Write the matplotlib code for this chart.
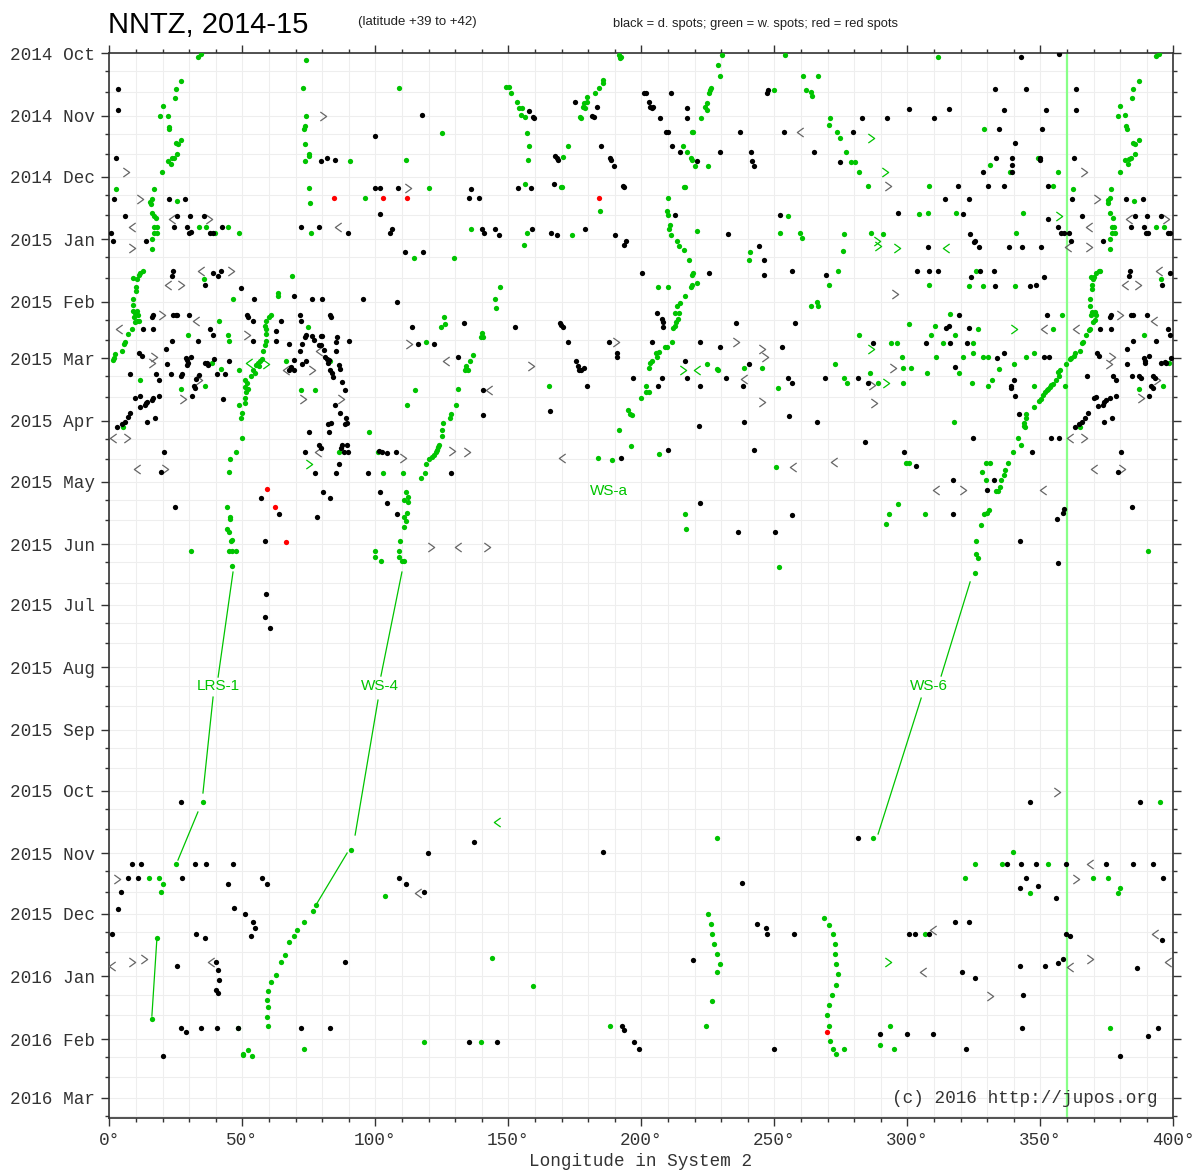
import numpy as np
import matplotlib
matplotlib.use('Agg')
import matplotlib.pyplot as plt
from matplotlib.path import Path

# --- data: (longitude in System 2 [deg], days since 2014-10-01) ---
START = np.datetime64('2014-10-01')
LAST_DAY = 527          # bottom of the chart, ~2016-03-11

dark_spots = [
    (3.4, 17.8), (3.4, 27.9), (2.6, 51.8), (1.8, 72.1), (5.8, 80.5), (0.8, 88.8), (1.5, 92.9), (13.8, 92.9),
    (22.4, 72.1), (28.5, 72.1), (25.6, 80.5), (30.3, 80.5), (35.5, 80.5), (24.3, 86), (29.1, 86), (29.8, 88.9),
    (30.6, 88.6), (37.8, 89.1), (38.8, 88.8), (42.4, 86), (79.4, 53.1), (82, 51.8), (84.8, 52.6), (100, 40.9),
    (117.5, 30.7), (99.9, 66.8), (101.9, 66.8), (108.6, 66.8), (101.9, 79.7), (72, 86), (78.8, 86), (89.9, 88.8),
    (105.6, 88.8), (106.3, 86.8), (111, 98.3), (118.1, 98.3), (23.9, 107.8), (23.6, 110.2), (38.9, 108.9),
    (40.8, 110.2), (41.8, 107.8), (35.9, 114.7), (49.4, 116), (69.3, 120.3), (54.5, 121.8), (76.1, 121.8),
    (80, 121.8), (95.5, 121.8),
    (108, 122.9), (16.4, 129.8), (16.1, 130.7), (24, 129.5), (25, 129.5), (25.5, 129.5), (30, 129.5), (12.5, 136.6),
    (16.5, 136.6), (23.5, 142.2), (33.4, 142.2), (37.75, 136.6), (39, 139.4), (51.6, 129.5), (52, 130.4),
    (54, 132.5), (21.4, 146.5), (11.1, 148.2), (12.25, 149.8), (21.75, 153.8), (28.9, 150.8), (29.25, 152),
    (29.6, 153.3), (29.25, 154.3), (30.6, 150.2), (36.1, 153.5), (36.9, 153.2), (37.25, 154.5), (39.4, 151.5),
    (44.9, 152.2), (7.75, 158.9), (17.5, 158.9), (18.6, 161.7), (23.25, 158.9), (27.1, 159.7), (27.5, 158.9),
    (32.75, 161.4), (33.6, 159.2), (32, 164.7), (32.25, 165.8), (40.5, 158.9), (43.5, 158.9), (9.75, 170.8),
    (11.4, 169.6), (11.6, 175), (13.4, 174.1), (13.75, 173.3), (14.25, 172.6), (15.9, 171.6), (16.4, 170.8),
    (18.5, 169.6), (14, 182.5), (17.25, 180.4), (7.75, 178.2), (7.1, 179.9), (5.75, 182.5), (4.75, 183.5),
    (2.9, 184.8), (31, 169.6), (42.75, 171.1), (20.5, 197.5), (19.25, 207.2), (24.6, 224.5), (54, 142.2),
    (62.6, 137.3), (62.6, 142.2), (64.5, 132.5), (67.6, 144), (71.5, 129.5), (72, 132.5), (72.25, 144),
    (71.5, 147.2), (73.75, 139.4), (73.6, 140.3), (76.25, 139.9), (77.1, 141.9), (79.5, 139.9), (80, 139.9),
    (79, 144.4), (79.75, 144.4), (80.75, 146.9), (81.25, 150.2), (81.9, 151.3), (82.5, 151.8), (82.25, 153.1),
    (83, 129.5), (83.5, 130.4), (85.6, 140.3), (85.25, 142.8), (85.1, 147.4), (90.25, 142.2), (86.4, 154.3),
    (86.6, 156.4), (82.9, 156.8), (83.6, 158.1), (84, 160.1), (87.4, 162.6), (88.6, 166.7), (68.25, 155.2),
    (67.6, 156.8), (69.25, 156.8), (72.6, 153.8), (73.9, 152.2), (69.4, 151.8), (84.9, 174.1), (86.9, 178.2),
    (89.1, 180.4), (88.6, 183.5), (89.25, 182.8), (82.25, 183.5), (83.5, 182.8), (74.9, 187.7), (82.5, 187.7),
    (79, 193.9), (79.5, 195.4), (73.4, 197.5), (87.4, 193.9), (87.1, 195.4), (89.25, 193.9), (88.4, 197.5),
    (89.6, 197.5), (86.5, 203.4), (77.4, 207.6), (85.4, 207.6), (97.1, 207.6), (101.5, 196.8), (102.5, 197.5),
    (104.25, 197.8), (107.75, 197.5), (113.6, 135.3), (115.9, 144), (122.1, 144), (130.9, 150.2), (128.6, 207.6),
    (80.4, 217.3), (83.1, 220.3), (78.25, 229.5), (57, 220.3), (63.6, 227.9), (58.6, 241.2), (58.9, 267.8),
    (58.5, 279), (60.4, 284.7), (101.6, 217.3), (104.4, 222.8), (108, 227.9),
    (175.1, 23.9), (183.25, 26.7), (181.4, 30.9), (182.1, 31.7), (157.6, 28.7), (159.5, 32), (159.25, 31.5),
    (200.9, 19.5), (201.75, 19.8), (202.75, 23.9), (203.4, 26.7), (204.4, 26.4), (203.9, 27.2), (206.9, 32),
    (211, 19.8), (217.1, 27.2), (217.1, 32), (209.1, 38.9), (210, 38.9), (211.6, 45.9), (214.4, 48.7), (221, 53.1),
    (237.1, 38.9), (229.5, 48.7), (241.4, 48.7), (241.6, 53.1), (242.4, 55.9), (253.75, 38.9), (264.75, 48.7),
    (247.6, 18.2), (247.25, 19.8), (185, 45.9), (188.4, 52), (188.5, 52.8), (189.75, 55.9), (167.5, 50.8),
    (168.4, 52), (168.5, 52.8), (167.1, 64.9), (136.1, 67.2), (135.4, 71.8), (139.1, 71.8), (153.6, 66.8),
    (158.4, 66.8), (193.1, 65.7), (193.6, 66), (140, 86.8), (141, 88.8), (145, 86.8), (146.5, 89.9), (158.75, 86.8),
    (165.9, 88.8), (168.4, 89.9), (178.75, 86.8), (190.1, 89.9), (193.6, 94.9), (194.4, 92.9), (212.6, 79.9),
    (232.5, 89.6), (200.25, 108.6), (225.25, 108.6), (244.25, 95.2), (246, 102.1), (246.1, 109.9), (252, 79.9),
    (256.75, 107.8),
    (133.25, 133.7), (152.6, 135.3), (169.6, 133.7), (169.9, 134.5), (170.5, 135.3), (172.25, 142.7),
    (187.9, 142.7), (191, 148.2), (191, 150.2), (175.25, 152.3), (176.1, 154.8), (176.5, 156.8), (177.4, 156.8),
    (178.6, 155.6), (179.6, 164.7), (140.5, 166.7), (140.5, 179.2), (165.5, 177.2), (206, 128.4), (207.75, 131.7),
    (208, 133.2), (208.25, 135.3), (203.9, 142.7), (196.75, 160.9), (207.75, 160.9), (206.1, 164.7),
    (216.5, 152.3), (217, 160.9), (222.1, 142.7), (229.5, 145.5), (235.5, 133.3), (257.75, 133.3), (252.75, 145.5),
    (240.5, 153.6), (222.1, 164.7), (231.9, 160.9), (238.4, 164.7), (255.25, 160.9), (256.5, 163.4),
    (221.75, 184.5), (238.6, 182.4), (255.6, 179.6), (266, 182.4), (210.1, 196.2), (192.25, 200.3),
    (242.25, 196.2), (222.1, 222.6), (236.5, 237.1), (250.25, 237.1), (256.5, 228.7),
    (342.6, 2), (357, 0.3), (333.1, 17.8), (344.75, 17.8), (363.25, 17.8), (300.75, 27.6), (315.6, 27.6),
    (336.5, 27.9), (352.1, 27.9), (363.25, 27.9), (283, 32), (292.25, 32), (310.1, 32), (279.4, 38.8),
    (334.4, 37.3), (350.5, 37.3), (340.5, 44.6), (333.4, 51.8), (339.5, 51.8), (339.5, 55.3), (339.25, 58.7),
    (350, 51.8), (349.75, 52.8), (362.6, 51.8), (274.75, 53.8), (328.5, 58.7), (319, 65.7), (330.4, 65.7),
    (336.5, 65.7), (352.75, 65.7), (314.1, 72.1), (323.25, 72.1), (361.75, 72.1), (296.6, 79), (320.75, 79.7),
    (352.75, 81.8), (356.75, 85.8), (357.75, 88.8), (358.9, 89.1), (360.75, 88.8), (361.4, 92.9), (365.75, 80.5),
    (323.6, 89.6), (325.1, 93.2), (325.6, 92.7), (307.6, 96), (327, 96), (338.25, 96), (343.1, 96), (350.25, 96),
    (373.6, 92.9), (382.25, 72.1), (388.4, 72.1), (385.6, 80.5), (390.25, 80.5), (395.5, 80.5), (384.1, 85.8),
    (389, 85.8), (389.75, 88.8), (390.6, 88.8), (397.9, 89.1), (398.6, 88.8), (269.5, 109.7), (303.6, 107.8),
    (308.1, 107.8), (311.5, 107.8), (323.9, 110.9), (327.4, 107.8), (332.75, 107.8), (333.1, 115.2),
    (346.25, 115.2), (348.5, 114.7), (351.25, 110.9), (383.75, 107.8), (383.5, 110.2), (398.9, 108.9),
    (395.75, 114.7),
    (352.5, 129.5), (319.6, 129.5), (376.25, 130.4), (376.5, 129.5), (376.5, 136.6), (372.5, 136.6), (384, 129.5),
    (384.75, 129.5), (390, 129.5), (314.5, 136.1), (315.6, 135), (323.25, 136.1), (287, 143.6), (307, 143.6),
    (316.1, 143.6), (322.4, 143.6), (336.25, 148.5), (333.75, 150.8), (351.25, 150.3), (353.25, 150.3),
    (317.75, 155.1), (268.9, 160.9), (281.5, 160.9), (285.25, 163.4), (340, 161.7), (339.1, 164.7), (339, 165.5),
    (340.5, 169.6), (342, 178.4), (324.75, 190.6), (354, 190.6), (357, 190.6), (346.9, 197.5), (284, 192.6),
    (298.75, 197.5), (303.4, 204.3), (317.25, 211.2), (332.4, 211.2), (329.9, 216.2), (317, 228.3),
    (342.25, 241.2), (356.25, 230.5), (358.6, 227.7), (359, 225.7), (356.5, 252.1), (384.4, 224.6),
    (367.5, 159.9), (371.25, 148.2), (372, 149.8), (377.4, 159.9), (378.6, 161.7), (382.75, 153.6), (384.5, 159.9),
    (382.5, 146.5), (384.75, 142.2), (389.1, 151), (389.4, 152.3), (389.5, 153.4), (390.75, 149.8),
    (387.25, 159.9), (387.75, 160.7), (392.25, 159.9), (393, 160.7), (391.75, 164.5), (392.25, 165.8),
    (391, 169.5), (393.5, 142.2), (395.5, 153.4), (396.75, 152.6), (397.25, 153.4), (397.9, 136.5),
    (398.75, 139.4), (399.1, 151), (370.25, 170.8), (371.1, 170), (371.6, 174.7), (373.4, 173.9), (373.9, 172.8),
    (374.5, 171.5), (376, 170.8), (378.5, 169.6), (368, 178.2), (366.6, 180.4), (365.5, 182.3), (364.5, 183.5),
    (362.9, 184.8), (373.9, 182.3), (377.1, 180.4), (380.4, 197.5), (379.1, 207.1),
    # autumn 2015 - winter 2016
    (27, 370.7), (346.2, 370.7), (387.5, 370.7), (137.1, 390.5), (119.8, 395.9), (185.6, 395.4), (281.5, 388.5),
    (8.5, 401.3), (11.9, 401.3), (32.2, 401.3), (36.3, 401.3), (46.5, 401.3), (7, 408.3), (10.8, 408.3),
    (27.3, 408.3), (44.6, 411.3), (57.4, 408.3), (59.3, 411.3), (4.4, 415.3), (109, 408.3), (111.7, 411.3),
    (118.3, 415.3), (238, 410.5), (3.4, 423.7), (46.9, 423.2), (51, 426), (54.1, 430), (54.9, 433), (53.4, 437.1),
    (1.1, 436), (32.6, 436), (36, 438), (243.3, 431), (246.8, 433), (247.1, 436), (257.3, 436), (300.8, 436),
    (302.7, 436), (308.2, 436), (318, 430), (323, 430), (359.7, 436), (361.2, 437), (395.8, 439),
    (337.5, 401.3), (342.8, 401.3), (348.5, 401.3), (359.8, 401.3), (374.5, 401.3), (385, 401.3), (392.5, 401.3),
    (344.5, 408.3), (396, 408.3), (342.3, 413.3), (349, 412.3), (356, 418.3),
    (25.5, 451.8), (40, 449.8), (40.8, 453.8), (41.1, 458.8), (40, 463.8), (40.8, 465.3), (88.6, 449.8),
    (219.5, 448.8), (320.6, 454.8), (325.5, 457.8), (342.4, 451.8), (351.8, 451.8), (356.7, 450.3),
    (358.5, 448.3), (386.3, 452.8), (343.6, 466.3),
    (26.9, 482.3), (29, 484.3), (34.5, 482.3), (40.5, 482.3), (48.2, 482.3), (72.1, 482.3), (83, 482.3),
    (192.8, 481.3), (193.6, 483.3), (289.7, 485.3), (299.8, 485.3), (309.6, 485.3), (343.1, 482.3),
    (394.2, 482.3), (390.5, 486.3),
    (20, 496.3), (135.2, 489.5), (145.7, 489.5), (197.1, 489.5), (199.1, 492.8), (249.8, 492.8), (321.9, 492.8),
    (380, 496.3),
]

white_spots = [
    (33.4, 1.6), (34.4, 0.3), (73.8, 3.1), (72.8, 17.3), (108.9, 17.3), (26.9, 13.7), (25.1, 17.8), (24.6, 22.3),
    (20.1, 26.2), (19, 31.2), (22.1, 30.9), (22.4, 36.3), (22.6, 37.3), (74, 30.9), (73.4, 35.8), (73.3, 37.6),
    (124.9, 39.3), (73.4, 45), (25, 44.2), (25.8, 45), (26.9, 42.9), (25.6, 49.8), (23.6, 52), (24.3, 51.8),
    (21.9, 53.1), (23, 54.8), (74.9, 49.8), (74.9, 51), (73.4, 53.1), (90.5, 53.1), (111.4, 52.6), (19.8, 58.7),
    (2.4, 67.3), (16.9, 67.3), (75.1, 66.8), (120, 66.8), (16.1, 72.3), (15.4, 73.4), (15.8, 74.4), (25.4, 73.1),
    (75.5, 74.3), (96, 71.8), (16.1, 79), (16.9, 80.5), (17.4, 81.5), (16.9, 86), (17.9, 86), (16.9, 88.9),
    (17.9, 88.9), (16.1, 92.1), (16.1, 97), (33.8, 86), (36.5, 86), (44.5, 86), (39.9, 88.8), (48.9, 88.8),
    (75.8, 88.8), (114.5, 101.5), (129.5, 101.5), (8.9, 111.2), (10.4, 111.9), (9.9, 115.5), (9.9, 117.5),
    (11.1, 109.9), (11.5, 108.9), (12.5, 107.8), (35.6, 111.9), (68.8, 110.2), (63.5, 118.8), (63.4, 120.1),
    (8.9, 121.8), (46.6, 121.8),
    (8.9, 124.8), (8.75, 127.4), (10.4, 127.7), (9.6, 128.7), (10.8, 129.5), (9.1, 130.4), (10.3, 132.7),
    (11, 132.4), (9.5, 133), (8.6, 136.6), (7.1, 139.1), (5.9, 142.8), (5.6, 143.9), (4.75, 147.2), (2.25, 149),
    (1.6, 150.7), (1.25, 151.6), (11.4, 161.7), (5.1, 184.8), (29.75, 139.4), (41.1, 132.7), (44.75, 139.4),
    (45, 142.4), (26.9, 166.2), (36.1, 164.7), (38.5, 153.5), (42, 156.4), (48.9, 156.8),
    (60.6, 129.5), (60, 130.4), (59, 132.5), (58.5, 135), (59, 136.6), (59, 139.2), (59, 142.2), (58.4, 144.5),
    (57.6, 147.4), (57.4, 151.5), (56.5, 152.2), (55.75, 153.1), (56.1, 154.8), (55.1, 154.3), (53.9, 156.8),
    (54.6, 158.2), (53.1, 159.7), (50.9, 161.7), (51.6, 163.4), (51.1, 165), (52.1, 166.3), (51.5, 167.5),
    (51, 170.8), (50.9, 173.3), (48.9, 174.1), (49.9, 178.2), (49.6, 180.4), (50, 190.6), (47.75, 197.5),
    (45.4, 200.8), (45, 207.2),
    (66.5, 152.3), (72, 166.7), (77.4, 166.7), (74.6, 135.3), (82.9, 152.3), (86.25, 197.5), (97.6, 187.7),
    (100.9, 197.5), (102.9, 207.6), (110.5, 207.6), (114.9, 166.7), (112, 174.1), (119.1, 142.8), (124.5, 135.5),
    (126.1, 133.8), (126, 130.7),
    (130.9, 166.3), (130.25, 174.1), (128.4, 178.5), (128.1, 180.7), (125.6, 182.8), (125.25, 186.4),
    (125.25, 189.7), (124, 193.9), (123.5, 194.7), (123.1, 196.4), (122.75, 197.5), (122.1, 198.8),
    (121.25, 199.7), (120.25, 201), (119, 203.3), (118.75, 207.6), (117.1, 210.4),
    (44.4, 224.4), (45.4, 229.4), (45.4, 230.7), (44.4, 235.4), (45, 236.8), (45.6, 241.2), (46.25, 240.9),
    (45, 246.4), (46.25, 246.4), (47.5, 246.4), (46.25, 253.8), (30.6, 246.4),
    (111.4, 217.3), (112.1, 219.8), (110.9, 221.1), (112.4, 222.1), (111.75, 227.4), (110.6, 229.4),
    (111.4, 231.5), (110.75, 234.4), (109.4, 241.2), (109, 246.4), (109, 249.2), (109.9, 251.3), (110.6, 251.3),
    (99.75, 246.4), (100, 249.2), (102.25, 251.3),
    (191.5, 0.8), (192.4, 1.6), (192, 2.5), (230.25, 0.8), (229, 5.6), (229.4, 11.2), (254.1, 0.8), (260.9, 11.2),
    (266.25, 11.2), (149, 16.8), (150.25, 16.8), (151.1, 19.5), (153.25, 23.9), (153.9, 26.9), (155, 27.2),
    (154.6, 30.7), (156.4, 31.5), (156.9, 39.3), (157.9, 45.9), (157.5, 52.6), (185.6, 13.2), (185.4, 14.9),
    (184, 17), (182.6, 19.8), (179.4, 21.8), (179.75, 23.9), (178.6, 24.8), (178.25, 26.4), (178.9, 27.2),
    (177, 31.7), (177.5, 32.2), (226.25, 17.3), (225.9, 18.2), (225.4, 19.8), (224.75, 24.8), (223.9, 26.4),
    (224.5, 28.1), (222.4, 32), (218.9, 38.9), (219.5, 38.9), (215.6, 45.9), (217.1, 48.7), (218.6, 52),
    (219, 52.8), (220, 55.9), (225.1, 55.9), (250, 18.2), (262, 18.2), (263.6, 19), (264.25, 21.1), (172.6, 45.9),
    (170.5, 51.2), (156.1, 64.9), (169.75, 66.3), (170.1, 66), (215.9, 66), (216.4, 66), (210.1, 71.8),
    (184.4, 78.2), (209.6, 78.2), (210.1, 80), (210.9, 85), (210.5, 87.1), (211.1, 89.9), (213.4, 92.9),
    (214, 95.4), (216, 97.4), (218, 102.1), (219.4, 108.9), (219, 109.9), (220.75, 113.9), (218.75, 115.5),
    (219, 114.7), (216.5, 120.1), (206.4, 115.5), (210.1, 115.5), (220.9, 88), (255.1, 80.4), (252.25, 88.8),
    (259.5, 88.8), (260.25, 91.3), (240.75, 98.2), (240.5, 102.1), (136, 86.8), (157, 88.8), (155.75, 94.9),
    (173.9, 89.9), (146.75, 115.5), (144.9, 121.8),
    (145.25, 126.3), (140, 138.5), (139.6, 140.7), (140.3, 140.7), (136.6, 149.5), (135.5, 152.3),
    (134.25, 155), (134, 156.3), (134.9, 157), (133.75, 157), (165.25, 164.7),
    (214.6, 123.8), (213.4, 124.9), (212.5, 128.4), (214, 128.4), (213.75, 131.7), (213, 132.8), (212.5, 134.8),
    (212, 135.8), (211.4, 142.7), (209.6, 145.5), (208.75, 145.5), (206.6, 147.8), (205.6, 148.5), (206, 150.2),
    (204, 152.3), (203.4, 153.5), (203, 155.6), (201.6, 164.7), (201.9, 167.5), (203, 167.5), (199.9, 170.6),
    (194.9, 176.6), (195.6, 178.7), (196.4, 179.2), (191.6, 186.5), (196.25, 194.6), (206.6, 198.3),
    (188.9, 201.5), (183.6, 200.3),
    (224.5, 153.6), (228.4, 156.3), (228.75, 157), (238.6, 155.6), (245.4, 155.6), (251.25, 165.8),
    (263.75, 124.9), (266.1, 122.9), (266.25, 124.9), (216.25, 227.9), (216.9, 235.5), (250.6, 204.8),
    (251.75, 254.3),
    (311.6, 2), (393.5, 1.3), (394.5, 0.3), (386.9, 13.7), (385, 17.8), (384.4, 22.3), (380.1, 26.2),
    (379.1, 31.2), (382, 30.7), (382.25, 36), (382.6, 37.3), (384.75, 44.2), (385.75, 45), (386.9, 42.9),
    (385.6, 49.8), (384.1, 51.8), (383.25, 52.3), (381.9, 52.8), (382.9, 54.8), (380.1, 58.7), (271, 32),
    (270.6, 35.3), (273.5, 38.8), (274.5, 41.7), (277.1, 48.7), (278.9, 53.8), (280.5, 53.8), (281.75, 58.7),
    (285.1, 65.7), (328.75, 37.3), (331.25, 55.3), (338.5, 58.7), (349.1, 51.8), (356.75, 58.7), (354.6, 65.7),
    (362.25, 67.2), (308.25, 65.7), (304.25, 79.7), (307.6, 79), (318.4, 79), (343.6, 79), (276.25, 89.6),
    (275.75, 98), (286.4, 88.8), (291, 89.6), (340.75, 88.8), (273.9, 107.8), (270.5, 114.7), (308.25, 114.7),
    (323.25, 115.2), (328.5, 115.2), (340.5, 115.2), (325.9, 107.8), (376.6, 67.2), (376, 71.8), (375.5, 72.6),
    (375.25, 74.3), (376, 79), (377.25, 81.7), (376.75, 85.8), (377.5, 85.8), (377, 88.8), (377.9, 89.1),
    (376.25, 92.1), (376, 97), (385.25, 73.1), (393.6, 85.8), (396.4, 85.8), (368.9, 110.9), (369.75, 111.9),
    (370.25, 110.6), (371, 108.9), (372, 107.9), (372.5, 107.6), (369.5, 114.7), (369.6, 116.8), (368.75, 121.8),
    (395.4, 111.9),
    (368.5, 124.9), (369.5, 127.9), (370.4, 127.9), (369, 129.5), (371, 129.5), (370.5, 132), (369.9, 132.8),
    (368.75, 136.5), (368.25, 136.9), (367, 139.4), (366, 142.7), (365.5, 143.6), (364.75, 147.2),
    (362.9, 148.2), (362.5, 149.8), (361.6, 151), (361, 151.5), (359.5, 153.8), (357.25, 156.8), (356.75, 157.6),
    (357.1, 159.7), (356, 161.7), (354.75, 163.8), (354.1, 164.2), (353.5, 165), (352.9, 166.3), (352.4, 166.7),
    (351.75, 167.7), (351, 169.3), (350.1, 171), (349.4, 172.1), (347.5, 175.2), (344.75, 178.5), (344.5, 180.7),
    (343.9, 182.8), (343.75, 184.5), (344.25, 184.8), (341.6, 190.6), (342.9, 193.9), (339.75, 197.5),
    (338, 202.8), (336.75, 206.3), (336.25, 208.7), (335.25, 211.2), (334.75, 214.5), (334.1, 216.6),
    (333.25, 216.6), (329.75, 211.2), (329.4, 202.8), (331, 202.8), (328, 207.1), (330.6, 225.9), (330, 227.4),
    (328.9, 228.2), (327.5, 233.4), (325.75, 241.2), (325.75, 248), (326.4, 250.1), (325.4, 257.4),
    (359.4, 164.7), (358.25, 129.5), (354.75, 136.5), (365, 184.8), (347.6, 148.5), (344.5, 150.2),
    (340.25, 153.6), (334.6, 156.1), (331.9, 161.7), (330.4, 164.7), (347.6, 164.7), (389.1, 139.4),
    (386.9, 166.2), (396.1, 164.7), (398.5, 153.2), (390.6, 246.4),
    (316, 129), (317.75, 139.4), (310.4, 135), (308.9, 139.4), (313.5, 143.6), (324.75, 143.6), (324.75, 148.5),
    (328.5, 150.3), (330.4, 150.3), (320.9, 150.3), (319.25, 158.1), (324.25, 163.4), (326.6, 136.6),
    (300.5, 134.2), (293.75, 143.6), (296.25, 143.6), (297.9, 150.3), (298.25, 155.8), (301.25, 155.8),
    (298.5, 163.4), (307.5, 158.1), (310.75, 150.3), (282, 139.7), (272.75, 153.6), (276.25, 160.9),
    (277.5, 163.4), (286, 158.1), (288.9, 163.4), (317.4, 182.3), (299.5, 202.8), (300.5, 202.8), (296.6, 223.3),
    (293.25, 228.3), (292, 233.2), (306.6, 228.3),
    # autumn 2015 - winter 2016
    (35.3, 370.7), (395.1, 370.7), (91, 394.4), (228.5, 388.5), (287.1, 388.5), (14.8, 408.3), (18.8, 408.3),
    (20.1, 411.3), (19.3, 415.3), (25.2, 401.3), (103.7, 417.3),
    (77.7, 421.6), (76.4, 424.5), (73, 430.1), (70.7, 434.1), (69.3, 437), (67.4, 440.2), (66.2, 446.4),
    (64.6, 449.8), (62.7, 456.3), (60.9, 459.8), (59.7, 464.3), (59.3, 468.8), (59.7, 472.3), (59.3, 477.3),
    (59.7, 481.3), (17.9, 438.1), (16, 478.2), (48.5, 482.3),
    (225.2, 426), (226, 431), (226.7, 436), (227.5, 441), (228.5, 446), (229.7, 451), (228.5, 455),
    (226.7, 469.3), (224.4, 481.3), (143.9, 447.8), (159.3, 461.8), (188.4, 481.3),
    (268.5, 428), (270.4, 431.3), (271.9, 436), (272.7, 441), (272.7, 446), (273.1, 451), (273.8, 456),
    (273.1, 461), (271.5, 466.3), (270.4, 471.3), (269.7, 476.3), (270.4, 481.3), (293.5, 481.3), (306.7, 436),
    (325.5, 401.3), (335.6, 401.3), (352.9, 401.3), (339.8, 395.4), (321.8, 408.3), (369.9, 408.3),
    (375.5, 408.3), (380, 413.3), (379.3, 415.7), (346.2, 415.7), (376.3, 482.3),
    (50.4, 496), (52, 493.4), (53.6, 496.3), (50.4, 495.4), (73.3, 492.8), (118.3, 489.5), (139.7, 489.5),
    (270.9, 489.1), (272, 492.8), (273.2, 495.5), (276.1, 492.8), (289.8, 491.1), (295, 492.8),
]

red_spots = [
    (84.4, 71.6), (102.9, 71.6), (112, 71.6), (184.25, 71.8), (59.1, 215.7), (62.25, 224.7), (66.6, 241.7),
    (269.8, 484.6),
]

# open chevrons drawn by the source for spots seen only near the limb ("<" / ">")
lt_grey = [
    (8.5, 86), (23.6, 81.8), (86.1, 86), (34.6, 107.8), (22.1, 114.7), (32.75, 132.5), (3.5, 136.6), (1.5, 190.6),
    (10.4, 205.6), (66.25, 156.8), (79, 147.2), (78.5, 197.5), (126.6, 152.3), (130.9, 244.4), (259.5, 38.9),
    (142.75, 166.7), (238.6, 161), (170.1, 200.3), (257, 204.8), (383.25, 81.8), (368.25, 85.8), (360.4, 96),
    (394.5, 107.8), (382, 114.7), (272.5, 202.3), (310.6, 216.2), (350.9, 216.2), (351.25, 136.5),
    (363.4, 136.5), (392.9, 132.5), (361.25, 190.6), (370.1, 205.6),
    (368.8, 401.3), (116, 415.7), (1.1, 451.8), (38.2, 449.8), (306, 454.8), (361.2, 452.3), (398, 449.8),
    (393.2, 436), (309.6, 434),
]
gt_grey = [
    (80.3, 30.9), (6.1, 58.9), (11.5, 72.1), (112.1, 66.8), (37.6, 81.8), (8.4, 96.2), (45.9, 107.8),
    (26.8, 114.7), (19.9, 129.5), (51.6, 139.4), (16.9, 150.2), (15.9, 153.5), (27.75, 171.1), (33.75, 161.7),
    (6.5, 190.6), (20.9, 205.6), (76.1, 156.8), (72.75, 171.1), (87.25, 171.1), (112.75, 144), (129, 196.8),
    (110.5, 200.5), (120.75, 244.4), (190.5, 142.7), (158.6, 155), (235.5, 142.7), (245.4, 146.5),
    (246.5, 150.2), (245.4, 172.4), (134.6, 197.5), (142, 244.4), (292.75, 65.7), (366.25, 58.7),
    (371.25, 72.1), (397.25, 81.8), (368.25, 96), (386.6, 114.7), (295.25, 119.3), (286.6, 164.2),
    (294.75, 155.8), (287.4, 173.3), (320.75, 216.2), (380, 129.5), (377, 150.2), (375.75, 153.8),
    (393.75, 161.7), (387.9, 170.8), (366.4, 190.6), (380.75, 205.6),
    (356.3, 365.7), (2.9, 408.8), (8.6, 449.8), (13, 448.3), (331.1, 466.7), (363.4, 408.8), (368.6, 448.3),
]
lt_green = [(52.6, 153.1), (221, 157), (314.5, 96.2), (145.8, 380.6)]
gt_green = [
    (59, 153.8), (75.25, 203.4), (215.5, 157), (286.25, 41.7), (291.75, 58.7), (288.5, 92.9), (288.9, 95.4),
    (296, 96.2), (357, 80.5), (340.25, 136.5), (286.25, 146.5), (291.9, 163.4), (292.8, 449.8),
]

# feature labels and their leader lines
feature_names = ['LRS-1', 'WS-4', 'WS-6', 'WS-a']
feature_pos = [(40.9, 313.2), (101.8, 313.2), (308.2, 313.2), (187.9, 216.7)]
leaders = [
    [(46.5, 256.8), (40.9, 308.8)], [(39, 318.7), (35.2, 366.2)], [(33.3, 375.6), (25.8, 399.4)],
    [(17.9, 438), (16, 476.6)],
    [(110, 256.8), (102.1, 308.3)], [(101, 320.2), (92.4, 387)], [(89.4, 395.9), (77.7, 421.6)],
    [(323.6, 261.7), (312.7, 308.3)], [(305.2, 319.2), (289, 386.5)],
]

GREEN = '#00c400'
MONO = 'Liberation Mono'
SANS = 'Liberation Sans'
MONTHS = ['Jan', 'Feb', 'Mar', 'Apr', 'May', 'Jun', 'Jul', 'Aug', 'Sep', 'Oct', 'Nov', 'Dec']


def xy(pts):
    a = np.array(pts, dtype=float)
    return a[:, 0], a[:, 1]


# --- figure ---
fig = plt.figure(figsize=(12, 11.71), dpi=100)
ax = fig.add_axes([0.0911, 0.0454, 0.8867, 0.9091])
ax.set_xlim(0, 400)
ax.set_ylim(LAST_DAY, 0)

months = np.arange(np.datetime64('2014-10'), np.datetime64('2016-04'))
month_days = (months.astype('datetime64[D]') - START).astype(int)
month_labels = [f"{str(m)[:4]} {MONTHS[int(str(m)[5:7]) - 1]}" for m in months]
minor_days = np.concatenate([month_days + 9, month_days + 19])
minor_days = minor_days[minor_days < LAST_DAY]

ax.set_yticks(month_days)
ax.set_yticklabels(month_labels, family=MONO, fontsize=12.7, color='#333333')
ax.set_yticks(minor_days, minor=True)
ax.set_xticks(np.arange(0, 401, 50))
ax.set_xticklabels([f'{v}\u00b0' for v in range(0, 401, 50)], family=MONO, fontsize=12.7, color='#333333')
ax.set_xticks(np.arange(0, 401, 10), minor=True)

ax.tick_params(which='both', direction='out', top=True, right=True, colors='#333333')
ax.tick_params(which='major', length=6, width=1, pad=4)
ax.tick_params(which='minor', length=3, width=1)
ax.grid(which='both', color='#eeeeee', lw=0.8, zorder=0)
ax.set_axisbelow(True)
for sp in ax.spines.values():
    sp.set_color('#333333')
    sp.set_linewidth(1.2)

ax.axvline(360, color='#88ff88', lw=1.6, zorder=1)

# chevron markers
lt_path = Path([(0.35, 0.5), (-0.35, 0.0), (0.35, -0.5)], [Path.MOVETO, Path.LINETO, Path.LINETO])
gt_path = Path([(-0.35, 0.5), (0.35, 0.0), (-0.35, -0.5)], [Path.MOVETO, Path.LINETO, Path.LINETO])
for pts, path, col in [(lt_grey, lt_path, '#666666'), (gt_grey, gt_path, '#666666'),
                       (lt_green, lt_path, GREEN), (gt_green, gt_path, GREEN)]:
    x, y = xy(pts)
    ax.plot(x, y, linestyle='none', marker=path, ms=6.5, mfc='none', mec=col, mew=0.9, zorder=3)

for pts, col in [(white_spots, GREEN), (dark_spots, 'black'), (red_spots, '#ff0000')]:
    x, y = xy(pts)
    ax.plot(x, y, 'o', ms=3.8, color=col, mec='none', zorder=4)

for seg in leaders:
    x, y = xy(seg)
    ax.plot(x, y, color=GREEN, lw=0.9, zorder=2)
for name, (lx, ly) in zip(feature_names, feature_pos):
    ax.text(lx, ly, name, family=SANS, fontsize=11, color=GREEN, ha='center', va='center', zorder=5)

ax.text(294.2, 517.2, '(c) 2016 http://jupos.org', family=MONO, fontsize=12.7, color='#333333',
        ha='left', va='center', zorder=5)

fig.text(108 / 1200, 1 - 33 / 1171, 'NNTZ, 2014-15', family=SANS, fontsize=21, color='black', va='baseline')
fig.text(358 / 1200, 1 - 22 / 1171, '(latitude +39 to +42)', family=SANS, fontsize=9.5, color='#222222', va='center')
fig.text(613 / 1200, 1 - 24 / 1171, 'black = d. spots; green = w. spots; red = red spots', family=SANS,
         fontsize=9.3, color='#222222', va='center')
fig.text(641 / 1200, 1 - 1161 / 1171, 'Longitude in System 2', family=MONO, fontsize=12.7, color='#333333',
         ha='center', va='center')

fig.savefig('out.png', dpi=100)
